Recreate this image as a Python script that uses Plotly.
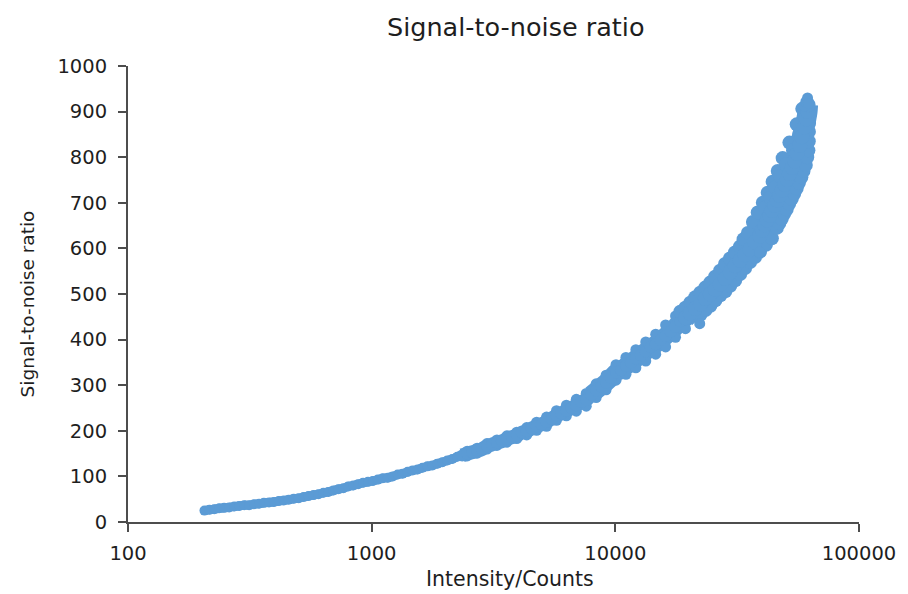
import plotly.graph_objects as go

# ---- data ----
# lower, flat part of the cloud (centre line)
intensity_low = [206, 216, 226, 237, 248, 260, 273, 286, 300, 314, 329, 345, 361, 379, 397, 416, 436, 457, 479, 502,
                 526, 551, 577, 605, 634, 664, 696, 730, 765, 801, 840, 880, 922, 966, 1012,
                 1060, 1111, 1165, 1220, 1279, 1340, 1405, 1472, 1543, 1617, 1694, 1776, 1861, 1950, 2044, 2142,
                 2245, 2352, 2465]
snr_low = [25, 27, 28, 30, 31, 32, 34, 35, 37, 37, 39, 40, 42, 43, 44, 46, 47, 49, 51, 52,
           55, 57, 59, 61, 64, 66, 69, 72, 74, 78, 80, 83, 86, 88, 90,
           93, 96, 97, 100, 104, 106, 110, 113, 115, 119, 122, 124, 128, 131, 135, 138,
           143, 146, 150]

# middle part (centre line)
intensity_mid = [2352, 2465, 2584, 2708, 2838, 2974, 3117, 3266, 3423, 3588, 3760, 3940, 4130, 4328, 4535,
                 4753, 4981, 5220, 5471, 5734, 6009, 6297, 6600, 6916, 7248, 7596, 7961, 8343, 8744, 9163, 9603, 10064,
                 10547, 11053, 11584, 12140, 12722, 13333, 13973, 14644, 15347, 16083, 16855, 17665, 18512, 19401,
                 20332]
snr_mid = [146, 150, 153, 156, 160, 166, 170, 174, 177, 182, 186, 190, 196, 199, 205,
           210, 214, 220, 226, 234, 238, 244, 250, 256, 263, 268, 279, 288, 297, 306, 316, 328,
           333, 342, 350, 358, 366, 374, 383, 390, 399, 408, 418, 428, 440, 448,
           458]

# spread of the band above / below the centre in the middle part
intensity_mid_spread = [2465, 2708, 2974, 3266, 3588, 3940, 4328, 4753, 5220, 5734, 6297, 6916, 7596, 8343,
                        9163, 10064, 11053, 12140, 13333, 14644, 16083, 17665, 19401]
snr_mid_upper = [155, 162, 172, 180, 189, 197, 207, 219, 230, 244, 256, 269, 282, 303,
                 322, 345, 361, 378, 395, 412, 432, 452, 472]
snr_mid_lower = [145, 151, 160, 168, 175, 183, 191, 201, 210, 223, 233, 243, 254, 273,
                 290, 311, 324, 338, 353, 368, 384, 405, 424]

# steep upper part (centre line)
intensity_high = [19401, 20332, 21308, 22331, 23403, 24527, 25704, 26938, 28231, 29586, 31006, 32494, 34054, 35689,
                  37402, 39197, 40100, 41079, 42000, 43051, 44000, 45117, 46200, 47283, 48400, 49552, 50700, 51931,
                  53100, 54424, 55700, 57036, 58300, 59774, 60800, 61500, 61800]
snr_high = [448, 458, 468, 478, 490, 500, 510, 522, 534, 548, 562, 574, 586, 598,
            614, 628, 640, 652, 662, 672, 683, 694, 705, 716, 728, 740, 752, 764,
            778, 792, 808, 826, 845, 866, 884, 900, 915]

# spread of the band left / right of the centre in the steep part
intensity_high_left = [18480, 19370, 20300, 21280, 22300, 23370, 24490, 25660, 26900, 28190, 29540, 30960,
                       32440, 33600, 35000, 36700, 38400, 40300, 41200, 42200, 43200, 44200, 45300, 46400, 47500,
                       48600, 50200, 51800, 53600, 55500, 57000, 58500, 59800]
snr_high_left = [461, 470, 481, 493, 503, 514, 525, 538, 551, 566, 578, 591,
                 604, 620, 634, 658, 679, 700, 690, 722, 711, 746, 734, 770, 758,
                 798, 784, 832, 815, 872, 852, 906, 890]
intensity_high_right = [22370, 23440, 24560, 25740, 26980, 28270, 29630, 31050, 32540, 34100, 35740, 37460,
                        39260, 41500, 43900, 46000, 47100, 48200, 49300, 50500, 51700, 53000, 54200, 55500,
                        56700, 58000, 59200, 60500, 61300, 62000, 62200, 62300, 62400, 62500]
snr_high_right = [455, 465, 474, 486, 497, 506, 518, 530, 544, 557, 570, 581,
                  593, 608, 622, 645, 655, 665, 676, 686, 698, 709, 720, 732,
                  744, 756, 770, 783, 800, 815, 835, 856, 875, 892]

# top of the cloud and two stray blobs
intensity_extra = [59500, 60500, 61500, 62000, 22200, 39100]
snr_extra = [912, 922, 930, 918, 435, 592]

x_tick_vals = [100, 1000, 10000, 100000]
x_tick_text = ["100", "1000", "10000", "100000"]
y_tick_vals = [0, 100, 200, 300, 400, 500, 600, 700, 800, 900, 1000]

BLUE = "#5B9BD5"
TXT = "#1e1e1e"
AX = "#4d4d4d"
FONT = "DejaVu Sans"

# plot area in window pixels (the page adds an 8 px body margin)
PX_L, PX_R, PX_T, PX_B = 128, 862, 66, 522
PW, PH = PX_R - PX_L, PX_B - PX_T


def px_to_paper(px, py):
    return (px - PX_L) / PW, (PX_B - py) / PH


fig = go.Figure()


def add_core(xs, ys, width):
    # dense core of the point cloud
    fig.add_trace(go.Scatter(x=xs, y=ys, mode="lines", showlegend=False, hoverinfo="skip",
                             line=dict(color=BLUE, width=width, shape="spline", smoothing=0.6)))


def add_pts(xs, ys, size):
    fig.add_trace(go.Scatter(x=xs, y=ys, mode="markers", showlegend=False, hoverinfo="x+y",
                             marker=dict(color=BLUE, size=size, opacity=1, line=dict(width=0))))


split = 26  # the cloud thickens beyond ~7500 counts
add_core(intensity_low, snr_low, 9)
add_core(intensity_mid[:split + 1], snr_mid[:split + 1], 14)
add_core(intensity_mid[split:], snr_mid[split:], 18)
add_core(intensity_high, snr_high, 20)

add_pts(intensity_low, snr_low, 10)
add_pts(intensity_mid_spread, snr_mid_upper, 11)
add_pts(intensity_mid_spread, snr_mid_lower, 11)
add_pts(intensity_mid, snr_mid, 12)
add_pts(intensity_high_left, snr_high_left, 14)
add_pts(intensity_high_right, snr_high_right, 14)
add_pts(intensity_high, snr_high, 15)
add_pts(intensity_extra, snr_extra, 11)

tx, ty = px_to_paper(518, 27)
xx, xy = px_to_paper(512, 579)
yx, yy = px_to_paper(27, 304)

fig.update_layout(
    width=900, height=586,
    margin=dict(l=PX_L - 8, r=908 - PX_R, t=PX_T - 8, b=594 - PX_B),
    paper_bgcolor="white", plot_bgcolor="white",
    font=dict(family=FONT, color=TXT, size=18),
    xaxis=dict(type="log", range=[2, 5], tickvals=x_tick_vals, ticktext=x_tick_text,
               showgrid=False, zeroline=False, showline=True, linecolor=AX, linewidth=2,
               ticks="outside", ticklen=8, tickwidth=2, tickcolor=AX, ticklabelstandoff=5,
               tickfont=dict(family=FONT, size=19.5, color=TXT)),
    yaxis=dict(range=[0, 1000], tickvals=y_tick_vals,
               showgrid=False, zeroline=False, showline=True, linecolor=AX, linewidth=2,
               ticks="outside", ticklen=8, tickwidth=2, tickcolor=AX, ticklabelstandoff=7,
               tickfont=dict(family=FONT, size=19.5, color=TXT)),
    annotations=[
        dict(text="Signal-to-noise ratio", xref="paper", yref="paper", x=tx, y=ty,
             xanchor="center", yanchor="middle", showarrow=False,
             font=dict(family=FONT, size=25.5, color=TXT)),
        dict(text="Intensity/Counts", xref="paper", yref="paper", x=xx, y=xy,
             xanchor="center", yanchor="middle", showarrow=False,
             font=dict(family=FONT, size=20.5, color=TXT)),
        dict(text="Signal-to-noise ratio", xref="paper", yref="paper", x=yx, y=yy,
             xanchor="center", yanchor="middle", showarrow=False, textangle=-90,
             font=dict(family=FONT, size=18.5, color=TXT)),
    ],
)

fig.write_html("out.html")
